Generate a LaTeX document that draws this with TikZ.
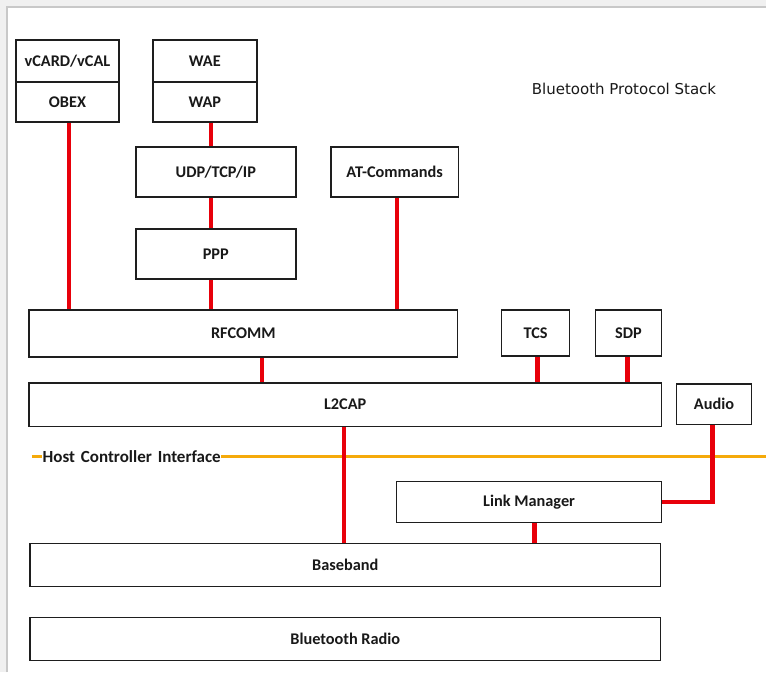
\documentclass[tikz,border=0pt]{standalone}
\usepackage{fontspec}
\setmainfont{Carlito}
\newfontfamily\titlefont{DejaVu Sans}
\definecolor{linkred}{RGB}{232,0,10}
\definecolor{hciorange}{RGB}{245,170,10}
\definecolor{framegray}{RGB}{200,200,200}
\definecolor{bandgray}{RGB}{240,240,240}
\definecolor{boxedge}{RGB}{30,30,30}
\begin{document}
\begin{tikzpicture}[x=1pt,y=-1pt,
  layerbox/.style={draw=boxedge, line width=1.6pt, fill=white, inner sep=0pt,
    font=\fontsize{16.3}{18}\selectfont\bfseries, text=black!90},
  redlink/.style={draw=linkred, line width=4.2pt},
  hciline/.style={draw=hciorange, line width=3pt}]
% canvas and frame
\fill[white] (0,0) rectangle (767,673);
\fill[bandgray] (0,0) rectangle (767,7);
\fill[bandgray] (0,0) rectangle (7,673);
\draw[framegray, line width=1.2pt] (7,673) -- (7,7) -- (767,7);
\useasboundingbox (0,0) rectangle (767,673);
% boxes
\node[layerbox, minimum width=103pt, minimum height=42pt] (vcard) at (67.5,61) {vCARD/vCAL};
\node[layerbox, minimum width=103pt, minimum height=40pt] (obex) at (67.5,102) {OBEX};
\node[layerbox, minimum width=104pt, minimum height=42pt] (wae) at (205,61) {WAE};
\node[layerbox, minimum width=104pt, minimum height=40pt] (wap) at (205,102) {WAP};
\node[layerbox, minimum width=160pt, minimum height=50pt] (udp) at (216,172) {UDP/TCP/IP};
\node[layerbox, minimum width=128pt, minimum height=50pt] (atc) at (395,172) {AT-Commands};
\node[layerbox, minimum width=160pt, minimum height=50pt] (ppp) at (216,254) {PPP};
\node[layerbox, minimum width=429pt, minimum height=47pt] (rfcomm) at (243.5,333.5) {RFCOMM};
\node[layerbox, minimum width=68pt, minimum height=46pt] (tcs) at (536,333) {TCS};
\node[layerbox, minimum width=66pt, minimum height=46pt] (sdp) at (629,333) {SDP};
\node[layerbox, minimum width=633pt, minimum height=44pt] (l2cap) at (345.5,405) {L2CAP};
\node[layerbox, minimum width=75pt, minimum height=41pt] (audio) at (714.5,404.5) {Audio};
\node[layerbox, minimum width=265pt, minimum height=41pt] (lm) at (529.5,502.5) {Link Manager};
\node[layerbox, minimum width=631pt, minimum height=43pt] (bb) at (345.5,565.5) {Baseband};
\node[layerbox, minimum width=631pt, minimum height=43pt] (radio) at (345.5,639.5) {Bluetooth Radio};
% title
\node[font=\titlefont\fontsize{15}{17}\selectfont, text=black!90] (title) at (624.5,89) {Bluetooth Protocol Stack};
% column coordinates for links
\coordinate (cobex) at (69,0);
\coordinate (cwap) at (211,0);
\coordinate (cat) at (397,0);
\coordinate (crf) at (262,0);
\coordinate (ctcs) at (538,0);
\coordinate (csdp) at (628,0);
\coordinate (cl2) at (344,0);
\coordinate (clm) at (535,0);
\coordinate (caud) at (713,0);
\coordinate (hcistart) at (32,457);
\coordinate (hciend) at (767,457);
% HCI line
\draw[hciline] (hcistart) -- (hciend);
\node[fill=white, inner sep=0.5pt, anchor=west, font=\fontsize{17}{19}\selectfont\bfseries, text=black!90] (hci) at (42,457) {Host\hspace{0.35em}Controller\hspace{0.35em}Interface};
% red links
\draw[redlink] (obex.south -| cobex) -- (rfcomm.north -| cobex);
\draw[redlink] (wap.south -| cwap) -- (udp.north -| cwap);
\draw[redlink] (udp.south -| cwap) -- (ppp.north -| cwap);
\draw[redlink] (ppp.south -| cwap) -- (rfcomm.north -| cwap);
\draw[redlink] (atc.south -| cat) -- (rfcomm.north -| cat);
\draw[redlink] (rfcomm.south -| crf) -- (l2cap.north -| crf);
\draw[redlink] (tcs.south -| ctcs) -- (l2cap.north -| ctcs);
\draw[redlink] (sdp.south -| csdp) -- (l2cap.north -| csdp);
\draw[redlink] (l2cap.south -| cl2) -- (bb.north -| cl2);
\draw[redlink] (lm.south -| clm) -- (bb.north -| clm);
\draw[redlink] (audio.south -| caud) |- (lm.east);
\end{tikzpicture}
\end{document}
